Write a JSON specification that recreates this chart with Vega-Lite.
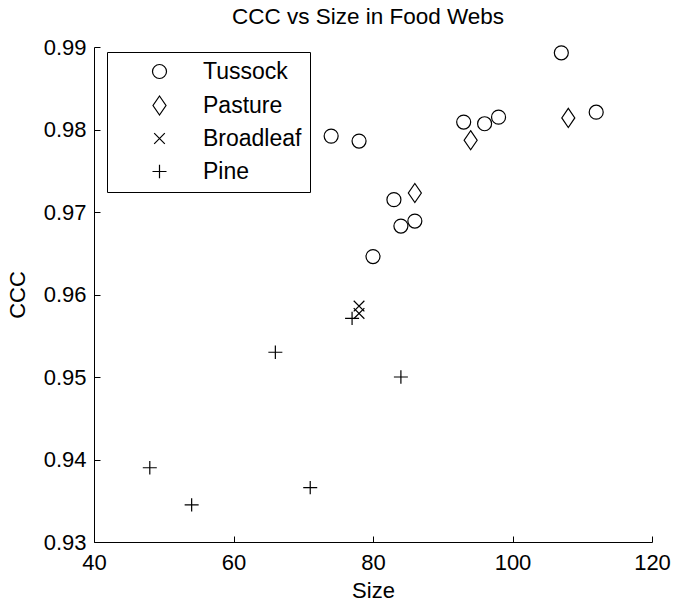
{
  "$schema": "https://vega.github.io/schema/vega-lite/v6.json",
  "width": 558,
  "height": 495,
  "autosize": "none",
  "padding": {"left": 94, "top": 47, "right": 30, "bottom": 66},
  "background": "white",
  "title": {"text": "CCC vs Size in Food Webs", "fontSize": 22.5, "font": "Liberation Sans", "fontWeight": "normal", "color": "black", "anchor": "middle", "offset": 8, "dx": -5},
  "config": {
    "view": {"stroke": null},
    "font": "Liberation Sans",
    "axis": {"grid": false, "domainColor": "black", "tickColor": "black", "labelColor": "black", "titleColor": "black", "labelFont": "Liberation Sans", "titleFont": "Liberation Sans", "labelFontSize": 22, "titleFontSize": 22, "titleFontWeight": "normal", "tickSize": -6, "domainWidth": 1, "tickWidth": 1, "labelFlush": false}
  },
  "data": {"values": [
    {"size": 107, "ccc": 0.9893, "type": "Tussock"},
    {"size": 112, "ccc": 0.9821, "type": "Tussock"},
    {"size": 74, "ccc": 0.9792, "type": "Tussock"},
    {"size": 78, "ccc": 0.9786, "type": "Tussock"},
    {"size": 93, "ccc": 0.9809, "type": "Tussock"},
    {"size": 96, "ccc": 0.9807, "type": "Tussock"},
    {"size": 98, "ccc": 0.9815, "type": "Tussock"},
    {"size": 83, "ccc": 0.9715, "type": "Tussock"},
    {"size": 84, "ccc": 0.9683, "type": "Tussock"},
    {"size": 86, "ccc": 0.9689, "type": "Tussock"},
    {"size": 80, "ccc": 0.9646, "type": "Tussock"},
    {"size": 86, "ccc": 0.9723, "type": "Pasture"},
    {"size": 94, "ccc": 0.9787, "type": "Pasture"},
    {"size": 108, "ccc": 0.9814, "type": "Pasture"},
    {"size": 78, "ccc": 0.9586, "type": "Broadleaf"},
    {"size": 78, "ccc": 0.9577, "type": "Broadleaf"},
    {"size": 77, "ccc": 0.9571, "type": "Pine"},
    {"size": 66, "ccc": 0.9530, "type": "Pine"},
    {"size": 84, "ccc": 0.9500, "type": "Pine"},
    {"size": 48, "ccc": 0.9390, "type": "Pine"},
    {"size": 54, "ccc": 0.9345, "type": "Pine"},
    {"size": 71, "ccc": 0.9366, "type": "Pine"}
  ]},
  "mark": {"type": "point", "filled": false, "color": "black", "strokeWidth": 1.2, "size": 196, "opacity": 1},
  "encoding": {
    "x": {"field": "size", "type": "quantitative", "title": "Size",
      "scale": {"domain": [40, 120], "nice": false, "zero": false},
      "axis": {"values": [40, 60, 80, 100, 120], "labelPadding": 16, "titlePadding": 7}},
    "y": {"field": "ccc", "type": "quantitative", "title": "CCC",
      "scale": {"domain": [0.93, 0.99], "nice": false, "zero": false},
      "axis": {"values": [0.93, 0.94, 0.95, 0.96, 0.97, 0.98, 0.99], "format": ".2f", "labelPadding": 14, "titlePadding": 14}},
    "shape": {"field": "type", "type": "nominal",
      "scale": {"domain": ["Tussock", "Pasture", "Broadleaf", "Pine"],
        "range": ["circle", "M0,-1.36L0.93,0L0,1.36L-0.93,0Z", "M-0.76,-0.76L0.76,0.76M-0.76,0.76L0.76,-0.76", "M-1,0L1,0M0,-0.95L0,0.95"]},
      "legend": {"title": null, "orient": "none", "legendX": 13, "legendY": 5, "strokeColor": "black", "fillColor": "white", "padding": 8, "symbolOffset": 33, "labelOffset": 32, "labelFontSize": 23, "labelColor": "black", "labelFont": "Liberation Sans", "rowPadding": 9, "symbolSize": 196, "symbolStrokeColor": "black", "symbolStrokeWidth": 1.2, "symbolFillColor": "transparent"}}
  }
}
